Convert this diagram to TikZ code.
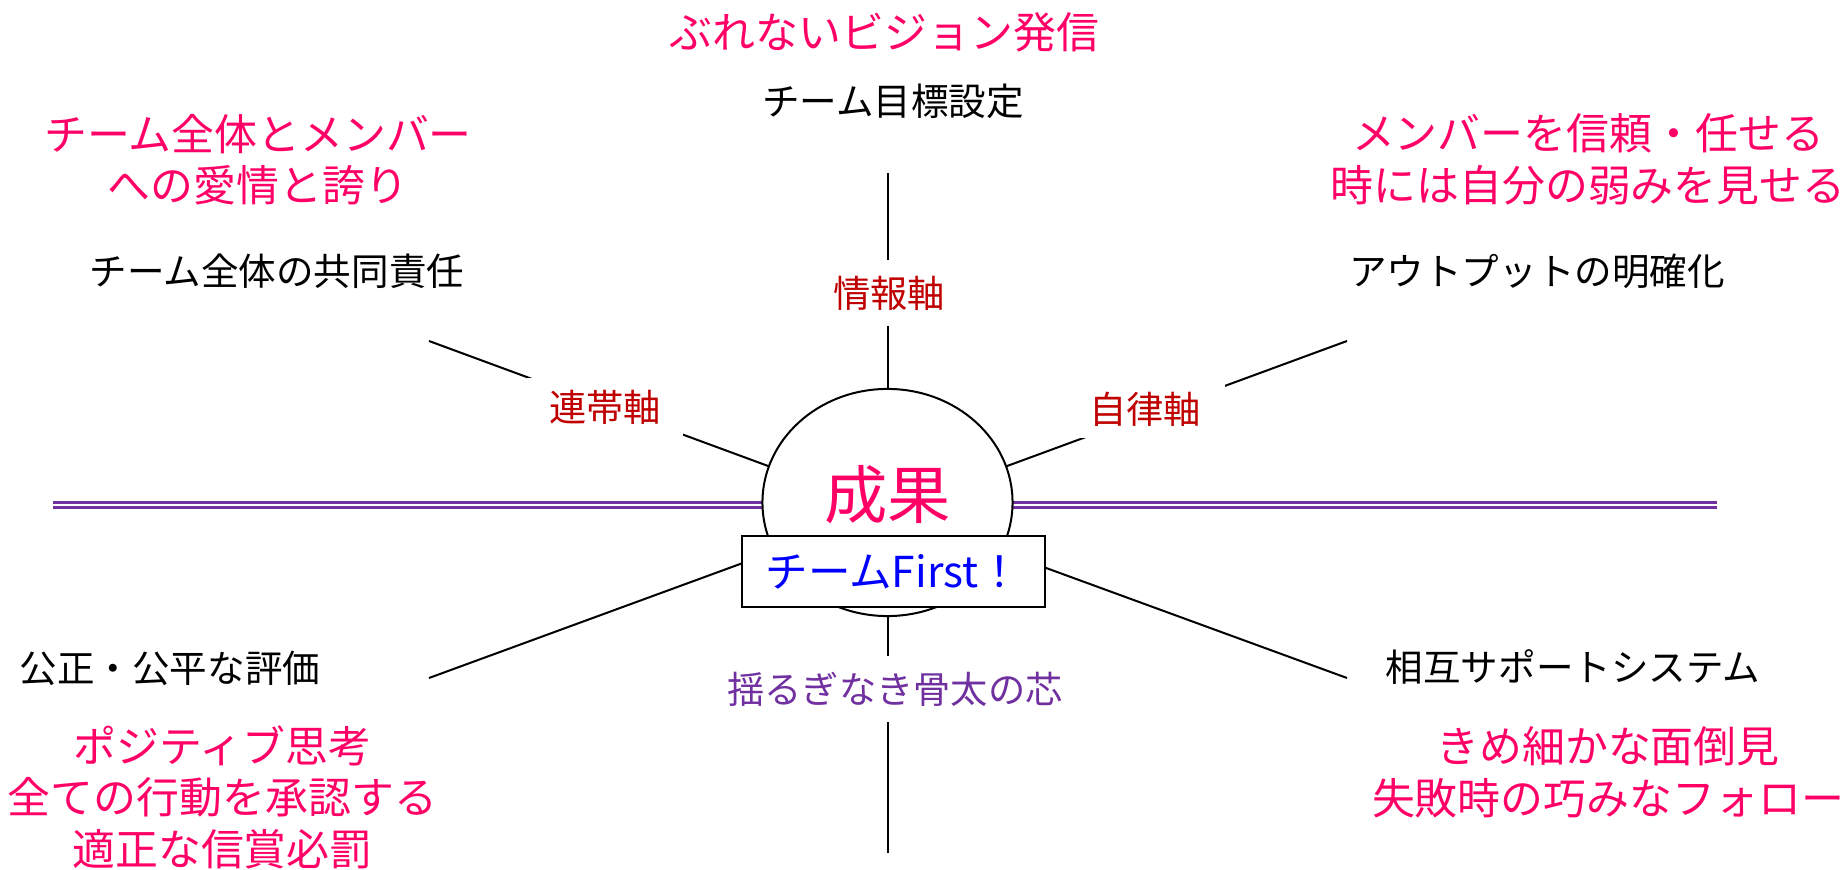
\documentclass[tikz,border=0pt]{standalone}
\usepackage{fontspec}
\newfontfamily\jpfont{Noto Sans CJK JP}
\usetikzlibrary{shapes.geometric}
\definecolor{accent}{HTML}{FF0066}
\definecolor{axisred}{HTML}{C00000}
\definecolor{corepurple}{HTML}{7030A0}
\definecolor{firstblue}{HTML}{0000FF}

\begin{document}
\begin{tikzpicture}[x=0.01cm, y=-0.01cm,
            every node/.style = {inner sep=0pt, font=\jpfont},
            spoke/.style = {draw=black, line width=0.02cm},
            axisline/.style = {draw=corepurple, line width=0.028cm, double=white, double distance=0.024cm},
            motto/.style = {text=accent, align=center, font=\jpfont\fontsize{12.2pt}{14.65pt}\selectfont},
            goal/.style = {text=black, font=\jpfont\fontsize{10.68pt}{13pt}\selectfont},
            axislabel/.style = {text=axisred, fill=white, minimum width=1.55cm, minimum height=0.58cm,
                                font=\jpfont\fontsize{10.6pt}{13pt}\selectfont}]
\useasboundingbox (0,0) rectangle (1844,870);

% free ends of the spokes
\coordinate (hub) at (887.5,510);
\coordinate (ul) at (429,341);
\coordinate (ur) at (1347,341);
\coordinate (ll) at (429,678);
\coordinate (lr) at (1347,678);
\coordinate (top) at (887.5,173);
\coordinate (bottom) at (887.5,853);
\coordinate (west) at (53,505.2);
\coordinate (east) at (1717,505.2);

\draw[axisline] (west) -- (east);
\foreach \e in {ul, ur, ll, lr, top, bottom}
    \draw[spoke] (\e) -- (hub);

% centre
\node[ellipse, draw, fill=white, line width=0.02cm,
      minimum width=2.5cm, minimum height=2.27cm] (seika) at (887.5,502.5) {};
\node[text=accent, font=\jpfont\fontsize{18pt}{20pt}\selectfont] (result) at (887.5,495) {成果};
\node[draw, fill=white, line width=0.02cm, minimum width=3.03cm, minimum height=0.71cm,
      text=firstblue, font=\jpfont\fontsize{12.1pt}{14pt}\selectfont] (teamfirst) at (893.3,571.7) {チームFirst！};

% axes
\node[axislabel, minimum width=1.2cm, minimum height=0.66cm] (joho) at (889,293) {情報軸};
\node[axislabel] (rentai) at (605,407) {連帯軸};
\node[axislabel, minimum width=1.6cm] (jiritsu) at (1145,409) {自律軸};
\node[axislabel, text=corepurple, minimum height=0.66cm] (shin) at (895,689) {揺るぎなき骨太の芯};

% outer texts
\node[motto] (vision) at (884.5,32) {ぶれないビジョン発信};
\node[goal] (goalset) at (893,101) {チーム目標設定};
\node[motto] (love) at (258,159.5) {チーム全体とメンバー\\への愛情と誇り};
\node[goal] (joint) at (277,271) {チーム全体の共同責任};
\node[motto] (trust) at (1588,159.5) {メンバーを信頼・任せる\\時には自分の弱みを見せる};
\node[goal] (output) at (1537,271) {アウトプットの明確化};
\node[goal] (fair) at (170,668) {公正・公平な評価};
\node[motto] (positive) at (222.5,797) {ポジティブ思考\\全ての行動を承認する\\適正な信賞必罰};
\node[goal] (mutual) at (1573,667) {相互サポートシステム};
\node[motto] (care) at (1608,772) {きめ細かな面倒見\\失敗時の巧みなフォロー};

\end{tikzpicture}
\end{document}
